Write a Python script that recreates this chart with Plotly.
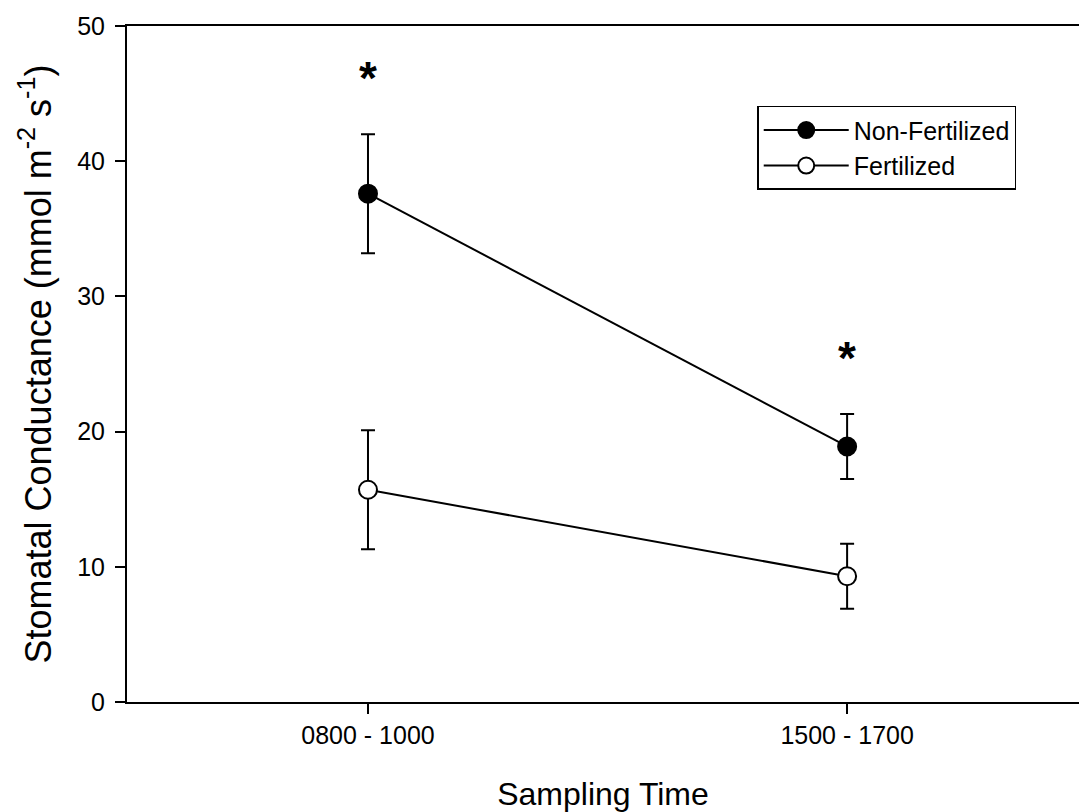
import plotly.graph_objects as go

# Sampling windows and stomatal conductance means with error bars
sampling_times = ["0800 - 1000", "1500 - 1700"]
non_fert_mean = [37.6, 18.9]
non_fert_err = [4.4, 2.4]
fert_mean = [15.7, 9.3]
fert_err = [4.4, 2.4]
# Which sampling windows differ significantly between treatments
significant = [True, True]
y_ticks = [0, 10, 20, 30, 40, 50]

x_pos = list(range(len(sampling_times)))
FONT = "Liberation Sans, Arial, sans-serif"

fig = go.Figure()

fig.add_trace(go.Scatter(
    x=x_pos, y=non_fert_mean, mode="lines+markers", name="Non-Fertilized",
    line=dict(color="black", width=2),
    marker=dict(symbol="circle", size=18, color="black", line=dict(color="black", width=2)),
    error_y=dict(type="data", array=non_fert_err, visible=True, color="black", thickness=2, width=7),
))
fig.add_trace(go.Scatter(
    x=x_pos, y=fert_mean, mode="lines+markers", name="Fertilized",
    line=dict(color="black", width=2),
    marker=dict(symbol="circle", size=18, color="white", line=dict(color="black", width=2)),
    error_y=dict(type="data", array=fert_err, visible=True, color="black", thickness=2, width=7),
))

# Asterisks above the upper error bar of the significant windows
for xi, sig, m, e in zip(x_pos, significant, non_fert_mean, non_fert_err):
    if sig:
        fig.add_annotation(
            x=xi, y=m + e, xref="x", yref="y", text="<b>*</b>", showarrow=False,
            yanchor="bottom", yshift=28,
            font=dict(family=FONT, size=46, color="black"),
        )

fig.update_layout(
    width=1079, height=812,
    margin=dict(l=127, r=0, t=26, b=110),
    paper_bgcolor="white", plot_bgcolor="white",
    font=dict(family=FONT, color="black"),
    showlegend=True,
    legend=dict(
        x=0.662, y=0.882, xanchor="left", yanchor="top",
        bordercolor="black", borderwidth=1.5, bgcolor="white",
        font=dict(family=FONT, size=25, color="black"),
        tracegroupgap=0, itemwidth=85,
    ),
    xaxis=dict(
        range=[-0.503, 1.484], tickmode="array", tickvals=x_pos, ticktext=sampling_times,
        showline=True, linecolor="black", linewidth=2, mirror=True,
        ticks="outside", ticklen=10, tickwidth=1.5, tickcolor="black",
        showgrid=False, zeroline=False,
        tickfont=dict(family=FONT, size=25, color="black"),
        title=dict(text="Sampling Time", font=dict(family=FONT, size=32, color="black"), standoff=36),
    ),
    yaxis=dict(
        range=[0, 50], tickvals=y_ticks,
        showline=True, linecolor="black", linewidth=2,
        ticks="outside", ticklen=10, tickwidth=1.5, tickcolor="black",
        ticklabelstandoff=5,
        showgrid=False, zeroline=False,
        tickfont=dict(family=FONT, size=25, color="black"),
        title=dict(text="Stomatal Conductance (mmol m<sup>-2</sup> s<sup>-1</sup>)",
                   font=dict(family=FONT, size=36, color="black"), standoff=15),
    ),
)

fig.write_html("out.html")
